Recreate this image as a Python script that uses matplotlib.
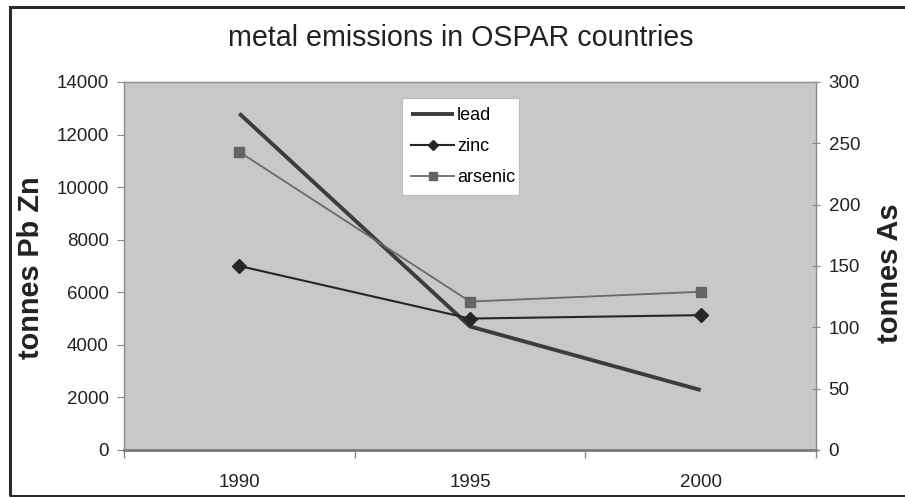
import matplotlib
matplotlib.use("Agg")
import matplotlib.pyplot as plt
from matplotlib.patches import Rectangle

plt.rcParams['font.family'] = ['Liberation Sans', 'DejaVu Sans']

years = ["1990", "1995", "2000"]
lead = [12800, 4700, 2280]
zinc = [7000, 5000, 5130]
arsenic = [243, 121, 129]
left_ticks = [0, 2000, 4000, 6000, 8000, 10000, 12000, 14000]
right_ticks = [0, 50, 100, 150, 200, 250, 300]

W, H = 905, 497
fig = plt.figure(figsize=(W / 100, H / 100), dpi=100)
fig.patch.set_facecolor("white")

# outer border
fig.patches.append(Rectangle((10 / W, 1.5 / H), 1.2, (H - 8.5) / H, transform=fig.transFigure,
                             fill=False, edgecolor="#2a2a2a", linewidth=2.2, zorder=0))

ax = fig.add_axes([124 / W, (H - 450) / H, (816 - 124) / W, (450 - 82) / H])
ax.set_facecolor("#c8c8ca")
x = list(range(len(years)))

ax.plot(x, lead, color="#3c3c3c", linewidth=2.8, label="lead", solid_capstyle="butt")
ax.plot(x, zinc, color="#262626", linewidth=1.5, marker="D", markersize=7,
        markerfacecolor="#262626", markeredgecolor="#262626", label="zinc")

ax2 = ax.twinx()
ax2.plot(x, arsenic, color="#6a6a6a", linewidth=1.3, marker="s", markersize=7.5,
         markerfacecolor="#646464", markeredgecolor="#646464", label="arsenic")
ax2.patch.set_visible(False)

ax.set_xlim(-0.5, 2.5)
ax.set_ylim(0, 14000)
ax2.set_ylim(0, 300)
ax.set_yticks(left_ticks)
ax.set_yticklabels([str(v) for v in left_ticks])
ax2.set_yticks(right_ticks)
ax2.set_yticklabels([str(v) for v in right_ticks])

ax.set_xticks(x)
ax.set_xticklabels(years)
ax.set_xticks([-0.5, 0.5, 1.5, 2.5], minor=True)
ax.tick_params(axis="x", which="major", length=0, pad=17, labelsize=13.5, colors="#222222")
ax.tick_params(axis="x", which="minor", length=6, direction="out", color="#888888", width=1)
ax.tick_params(axis="y", length=5, direction="out", color="#888888", labelsize=13.5,
               labelcolor="#222222", pad=6)
ax2.tick_params(axis="y", length=6, direction="inout", color="#888888", labelsize=13.5,
                labelcolor="#222222", pad=6)

for a in (ax, ax2):
    for s in a.spines.values():
        s.set_color("#8a8a8a")
        s.set_linewidth(1.0)
ax.spines["bottom"].set_linewidth(2.0)
ax.spines["bottom"].set_color("#7a7a7a")
ax2.spines["bottom"].set_visible(False)
ax.spines["right"].set_visible(False)
ax2.spines["left"].set_visible(False)
ax2.spines["top"].set_color("#9a9a9a")

fig.text(461 / W, 1 - 38 / H, "metal emissions in OSPAR countries", ha="center", va="center",
         fontsize=20.6, color="#222222")
fig.text(31 / W, 1 - 268 / H, "tonnes Pb Zn", rotation=90, ha="center", va="center",
         fontsize=20.8, fontweight="bold", color="#222222")
fig.text(890 / W, 1 - 273 / H, "tonnes As", rotation=90, ha="center", va="center",
         fontsize=21, fontweight="bold", color="#222222")

h1, l1 = ax.get_legend_handles_labels()
h2, l2 = ax2.get_legend_handles_labels()
leg = ax2.legend(h1 + h2, l1 + l2, loc="upper left",
                 bbox_to_anchor=(402 / W, 1 - 189 / H, (519 - 402) / W, (189 - 98) / H),
                 bbox_transform=fig.transFigure, mode="expand", markerscale=0.8,
                 fontsize=13, frameon=True, fancybox=False, borderaxespad=0,
                 handlelength=2.4, handletextpad=0.15, labelspacing=0.78, borderpad=0.5)
leg.get_frame().set_facecolor("white")
leg.get_frame().set_edgecolor("#bbbbbb")
leg.get_frame().set_linewidth(0.8)
leg.get_frame().set_alpha(1)

fig.savefig("out.png", dpi=100)
